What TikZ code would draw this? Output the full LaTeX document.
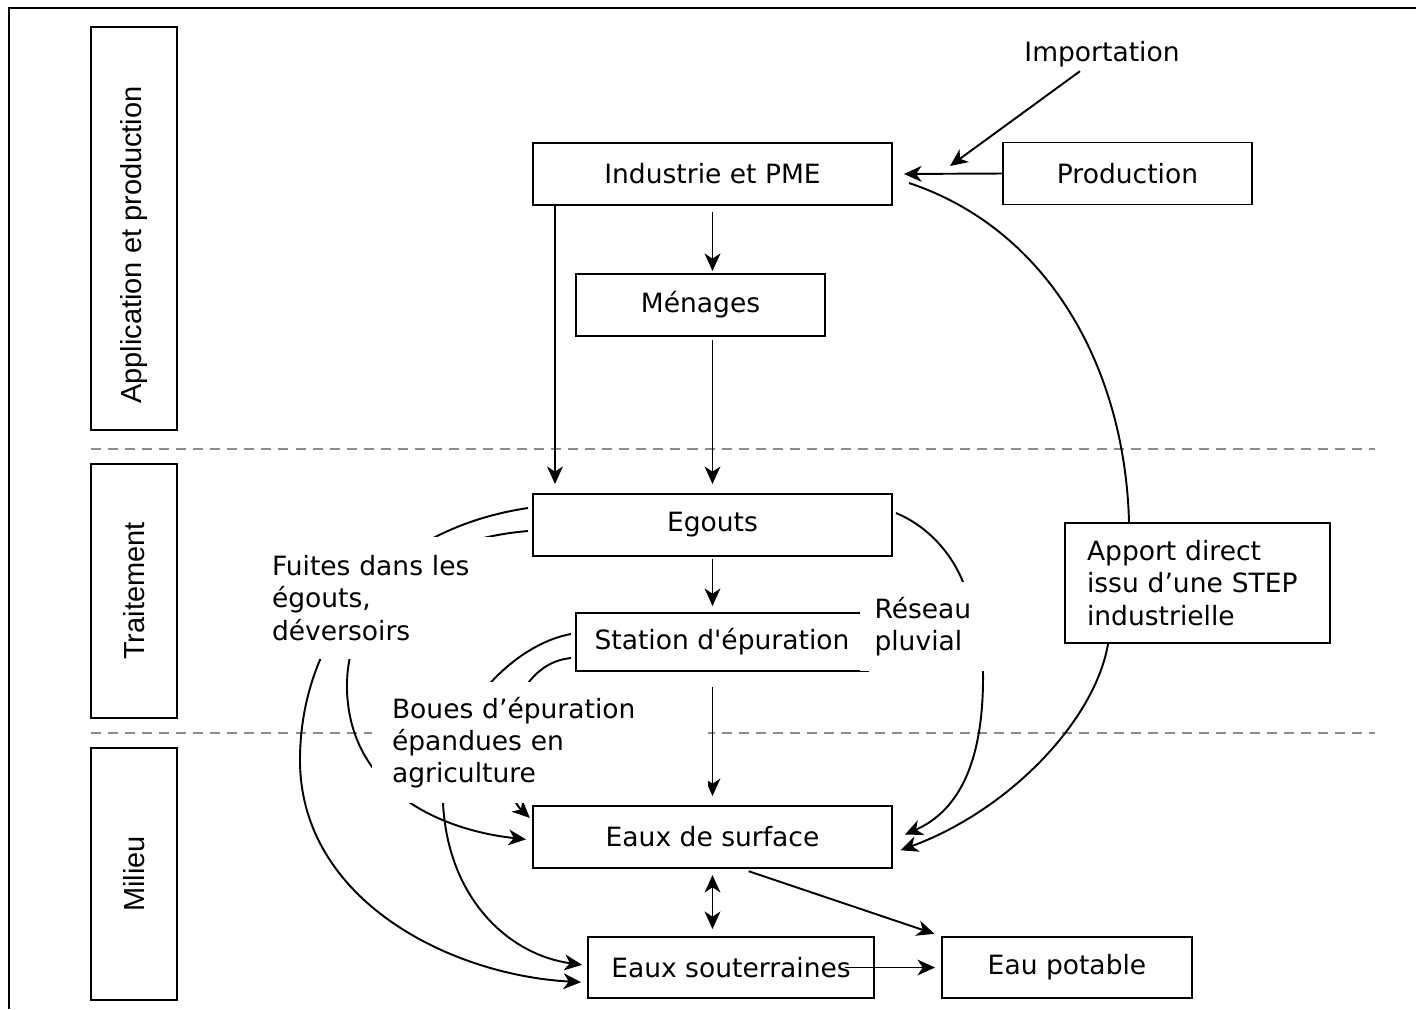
\documentclass[tikz,border=0pt]{standalone}
\usepackage{fontspec}
\setmainfont{DejaVu Sans}[Ligatures=TeXOff]
\newfontfamily\barfont{Liberation Sans}
\usetikzlibrary{arrows.meta}
\newlength\pxl \setlength\pxl{0.02cm}
\begin{document}
\begin{tikzpicture}[x=0.02cm, y=-0.02cm,
  every node/.style={font=\fontsize{15.1}{18.4}\selectfont, inner sep=0pt},
  box/.style={draw, line width=1.1pt, minimum height=62\pxl},
  barlab/.style={rotate=90, font=\barfont\fontsize{16.5}{19}\selectfont},
  lab/.style={fill=white, align=left},
  ln/.style={line width=1.1pt},
  arr/.style={line width=1.1pt, -{Stealth[length=10pt, width=9pt, inset=3pt]}},
  darr/.style={line width=1.1pt, {Stealth[length=10pt, width=9pt, inset=3pt]}-{Stealth[length=10pt, width=9pt, inset=3pt]}},
  dashline/.style={draw=black!45, line width=1.1pt, dash pattern=on 5.7pt off 4pt}]
\useasboundingbox (0,0) rectangle (1416,1009);
% frame
\draw[line width=1.3pt] (9,1009) -- (9,8) -- (1416,8);
% dashed separators
\draw[dashline] (91,449) -- (1375,449);
\draw[dashline] (91,733) -- (1375,733);
% side bars
\node[box, minimum width=86\pxl, minimum height=403\pxl] (bar1) at (134,228.5) {};
\node[box, minimum width=86\pxl, minimum height=254\pxl] (bar2) at (134,591) {};
\node[box, minimum width=86\pxl, minimum height=252\pxl] (bar3) at (134,874) {};
\node[barlab] (bar1t) at (134,245) {Application et production};
\node[barlab] (bar2t) at (bar2) {Traitement};
\node[barlab] (bar3t) at (bar3) {Milieu};
% boxes
\node[box, minimum width=359\pxl] (ind) at (712.5,174) {Industrie et PME};
\node[box, minimum width=249\pxl] (prod) at (1127.5,173.5) {Production};
\node[box, minimum width=249\pxl] (men) at (700.5,305) {Ménages};
\node[box, minimum width=359\pxl] (eg) at (712.5,525) {Egouts};
\node[box, minimum width=292\pxl, minimum height=58\pxl] (sta) at (722,642) {Station d'épuration};
\node[box, minimum width=359\pxl] (surf) at (712.5,837) {Eaux de surface};
\node[box, minimum width=286\pxl, minimum height=61\pxl] (sout) at (731,967.5) {Eaux souterraines};
\node[box, minimum width=250\pxl, minimum height=61\pxl] (pot) at (1067,967.5) {Eau potable};
\node[box, text width=221\pxl, inner xsep=22\pxl, minimum height=120\pxl, align=left] (app) at (1197.5,583) {Apport direct\\issu d’une STEP\\industrielle};
\node (imp) at (1102,54) {Importation};
\coordinate (impend) at (950,166);
% straight arrows
\draw[arr] ([xshift=-22\pxl,yshift=-4\pxl]imp.south) -- (impend);
\draw[arr, shorten >=11\pxl] (prod.west) -- (ind.east);
\draw[arr, shorten >=9\pxl] ([xshift=-157.5\pxl]ind.south) -- ([xshift=-157.5\pxl]eg.north);
\draw[arr, shorten <=6\pxl, shorten >=2\pxl] (ind.south) -- (men.north -| ind.south);
\draw[arr, shorten <=3\pxl, shorten >=9\pxl] (men.south -| ind.south) -- (eg.north);
\draw[arr, shorten <=2\pxl, shorten >=6\pxl] (eg.south) -- (sta.north -| eg.south);
\draw[arr, shorten <=15\pxl, shorten >=9\pxl] (sta.south -| eg.south) -- (surf.north);
\draw[darr, shorten <=6\pxl, shorten >=7\pxl] (surf.south) -- (sout.north -| surf.south);
\draw[arr, shorten <=7\pxl, shorten >=7\pxl] ([xshift=29.5\pxl]surf.south) -- (pot.north west);
\draw[arr, shorten >=6\pxl] ([xshift=114\pxl]sout.center) -- (pot.west);
% curved connectors
\draw[ln] ([xshift=16\pxl,yshift=-9\pxl]ind.east) .. controls (1050,230) and (1125,370) .. ([xshift=-68.5\pxl]app.north);
\draw[arr, shorten >=8\pxl] ([xshift=-89.5\pxl]app.south) .. controls (1095,720) and (1010,810) .. ([yshift=-16\pxl]surf.east);
\draw[arr, shorten >=13\pxl] ([xshift=3\pxl,yshift=12\pxl]eg.east) .. controls (925,525) and (950,550) .. (963,582) .. controls (976,614) and (983,640) .. (983,672) .. controls (984,760) and (960,810) .. ([yshift=-3\pxl]surf.east);
\draw[arr, shorten >=6\pxl] ([xshift=-4\pxl,yshift=17\pxl]eg.west) .. controls (380,530) and (300,640) .. (300,760) .. controls (300,900) and (450,975) .. ([yshift=-15\pxl]sout.west);
\draw[arr, shorten >=6\pxl] ([xshift=-4\pxl,yshift=-6\pxl]eg.west) .. controls (420,540) and (345,600) .. (347,690) .. controls (350,790) and (440,830) .. ([yshift=-3\pxl]surf.west);
\draw[arr, shorten >=5\pxl] ([xshift=-4\pxl,yshift=8\pxl]sta.west) .. controls (510,645) and (440,720) .. (443,803) .. controls (448,900) and (510,955) .. ([yshift=2\pxl]sout.west);
\draw[arr, shorten >=3\pxl] ([xshift=-4\pxl,yshift=-16\pxl]sta.west) .. controls (500,665) and (495,785) .. ([yshift=17\pxl]surf.west);
% labels with white background
\node[lab, text width=213\pxl, inner xsep=10\pxl, minimum height=122\pxl] (fuites) at (378.5,598) {Fuites dans les\\égouts,\\déversoirs};
\node[lab, text width=296\pxl, inner xsep=20\pxl, minimum height=121\pxl] (boues) at (540,742.5) {Boues d’épuration\\épandues en\\agriculture};
\node[lab, text width=100\pxl, inner xsep=15\pxl, minimum height=89\pxl] (res) at (924.5,626.5) {Réseau\\pluvial};
\end{tikzpicture}
\end{document}
